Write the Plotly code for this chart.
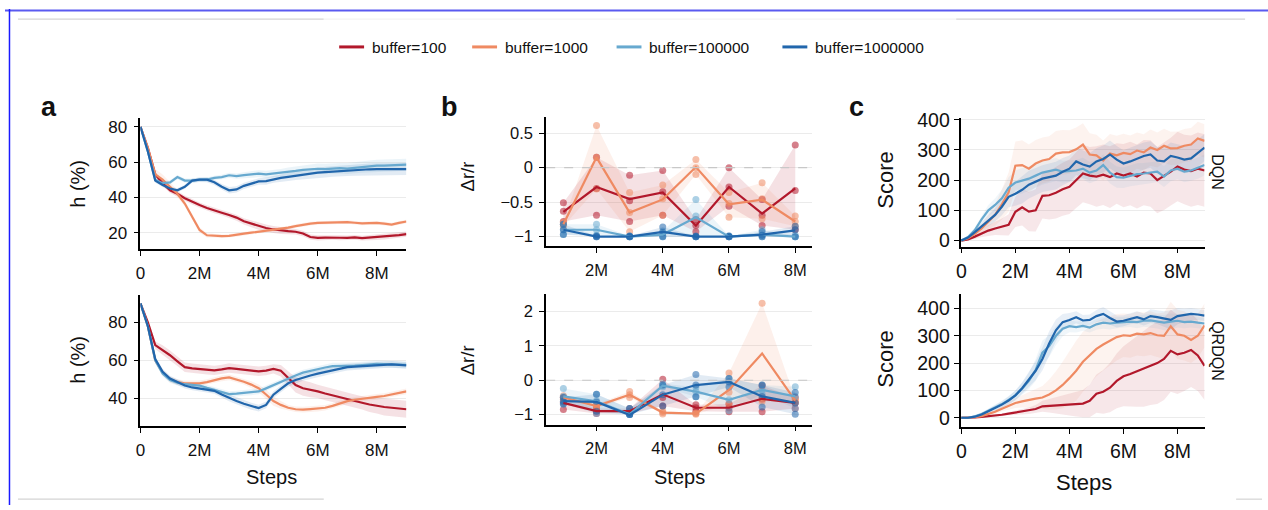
import plotly.graph_objects as go

W, H = 1268, 510
FONT = "Liberation Sans, Arial, Helvetica, sans-serif"

BUFFERS = ["buffer=100", "buffer=1000", "buffer=100000", "buffer=1000000"]
COLORS = ["#b2182b", "#ef8a62", "#67a9cf", "#2166ac"]
FILLS = ["rgba(178,24,43,{a})", "rgba(239,138,98,{a})", "rgba(103,169,207,{a})", "rgba(33,102,172,{a})"]

# training steps, in millions
STEPS = [0, 0.25, 0.5, 0.75, 1, 1.25, 1.5, 1.75, 2, 2.25, 2.5, 2.75, 3, 3.25, 3.5, 3.75, 4, 4.25, 4.5,
         4.75, 5, 5.25, 5.5, 5.75, 6, 6.25, 6.5, 6.75, 7, 7.25, 7.5, 7.75, 8, 8.25, 8.5, 8.75, 9]
EVAL_STEPS = [1, 2, 3, 4, 5, 6, 7, 8]

# ---- a (top): h (%) ----
a1_b100 = [80, 68, 53, 48, 44, 42, 39.5, 37.5, 35.6, 34, 32.5, 31.3, 30, 28.5, 26.4, 25, 23.7, 22.6, 21.8,
           21.2, 20.8, 20.5, 19.5, 17.5, 17, 17.2, 17.3, 17.1, 17, 17.3, 16.9, 17.2, 17.3, 17.6, 18.2, 18.6, 19.2]
a1_b1000 = [80, 68, 53, 50, 46, 42, 36.5, 29, 21.5, 18.5, 18.2, 18, 18.2, 18.6, 19.4, 20, 20.5, 21, 21.5,
            22.3, 22.8, 23.7, 24.6, 25.1, 25.5, 25.7, 25.9, 25.9, 26, 25.6, 25.2, 25.4, 25.5, 25.1, 24.6, 25.5, 26.3]
a1_b1e5 = [80, 66, 50, 48, 48.5, 51.5, 49.5, 49.5, 50, 50, 51, 51.5, 52.5, 52, 52.6, 53, 53.4, 53, 53.4,
           53.8, 54.5, 55, 55.6, 56, 56.2, 56, 56.3, 56.5, 56.3, 56.8, 57.2, 57.6, 58, 58, 58.2, 58.3, 58.5]
a1_b1e6 = [80, 66, 49.5, 47, 45, 44, 46, 49.5, 50, 50, 48.5, 46, 44, 44.5, 46.5, 47.8, 49, 49.2, 50.2,
           51, 51.6, 52.3, 53, 53.5, 54, 54.3, 54.6, 55, 55.2, 55.5, 55.7, 55.9, 56, 56, 56, 56, 56]
a1_sd_b100 = [0, 1, 1.5, 1.5, 1.5, 1.5, 1.5, 1.5, 1.5, 1.5, 1.5, 1.5, 1.6, 1.7, 1.8, 2, 2, 2, 2,
              2, 1.8, 1.6, 1.5, 1.5, 1.5, 1.4, 1.4, 1.4, 1.4, 1.4, 1.4, 1.5, 1.5, 1.5, 1.5, 1.5, 1.5]
a1_sd_b1000 = [0, 1.5, 3, 3, 2.5, 2, 1.5, 1.5, 1.5, 1.2, 1, 1, 1, 1, 1, 1, 1, 1, 1,
               1, 1, 1, 1, 1, 1, 1, 1, 1, 1, 1, 1, 1, 1, 1, 1, 1, 1]
a1_sd_b1e5 = [0, 1, 1.2, 1.2, 1.2, 1.2, 1.2, 1.2, 1.2, 1.2, 1.2, 1.3, 1.4, 1.5, 1.6, 1.8, 2, 2, 2,
              2.2, 2.4, 2.5, 2.6, 2.8, 3, 3, 3, 3, 3.1, 3.2, 3.2, 3.3, 3.3, 3.4, 3.4, 3.4, 3.4]
a1_sd_b1e6 = [0, 1, 1.2, 1.2, 1.2, 1.2, 1.2, 1.2, 1.3, 1.4, 1.5, 1.6, 1.8, 1.8, 1.8, 1.8, 1.8, 2, 2,
              2.2, 2.4, 2.5, 2.6, 2.8, 3, 3, 3, 3, 3.1, 3.2, 3.2, 3.3, 3.3, 3.4, 3.4, 3.4, 3.4]

# ---- a (bottom): h (%) ----
a2_b100 = [90, 80, 68, 65.5, 62.7, 59.5, 56.4, 55.8, 55.5, 55, 54.7, 55.2, 55.9, 55.5, 55.2, 54.5, 54.2, 54.6, 55.5,
           54.5, 50.5, 47, 45.3, 44.5, 43.6, 42.5, 41.5, 40.3, 39.3, 38.5, 37.6, 36.7, 35.9, 35.4, 35, 34.6, 34.2]
a2_b1000 = [90, 78, 60, 53.5, 50, 48.5, 47.9, 47.8, 47.9, 48.5, 49.6, 50.5, 51, 50, 48.7, 47.2, 45.3, 42, 38.5,
            36.5, 35, 34.2, 34, 34.3, 34.5, 35, 36, 37.3, 38.5, 39.2, 39.8, 40.3, 40.7, 41.2, 41.9, 42.8, 43.6]
a2_b1e5 = [90, 78, 60, 53, 49.6, 48.2, 47.4, 47, 46.7, 45.5, 44.4, 43.2, 42.2, 42.4, 42.7, 43.1, 43.6, 45.2, 47,
           48.7, 50.4, 52, 53.5, 54.5, 55.5, 56.2, 56.9, 56.9, 56.9, 57.2, 57.5, 57.8, 58.1, 58, 57.9, 57.8, 57.6]
a2_b1e6 = [90, 78, 60.7, 54, 50.4, 48.5, 46.7, 45.7, 45, 44.5, 43.9, 42, 40.2, 38.6, 37.1, 35.8, 34.8, 36.5, 41.9,
           45, 47.9, 49.6, 51, 52, 53, 53.8, 54.7, 55.6, 56.4, 56.7, 56.9, 57.3, 57.6, 57.8, 57.9, 57.6, 57.3]
a2_sd_b100 = [0, 1.5, 2, 2.5, 2.5, 2.5, 2.5, 2.5, 2.5, 2.5, 2.5, 2.5, 2.5, 2.5, 2.5, 2.5, 2.5, 2.5, 2.5,
              3, 3.5, 4, 4, 4, 3.5, 3.5, 3.5, 3.5, 3.5, 3.5, 3.5, 4, 4, 4.5, 4.5, 4.5, 4.5]
a2_sd_b1000 = [0, 1, 1.5, 1.5, 1.5, 1.5, 1.5, 1.5, 1.5, 1.5, 1.5, 1.5, 1.5, 1.5, 1.5, 1.8, 2, 2.5, 2.5,
               2, 1.5, 1.5, 1.5, 1.5, 1.5, 1.5, 1.5, 1.5, 1.5, 1.5, 1.5, 1.5, 1.5, 1.5, 1.5, 1.5, 1.5]
a2_sd_b1e5 = [0, 1, 1.5, 1.5, 1.5, 1.5, 1.5, 1.5, 1.5, 1.5, 1.5, 1.5, 1.5, 1.5, 1.5, 1.5, 1.5, 1.5, 1.5,
              1.5, 1.5, 1.5, 1.5, 1.5, 1.6, 1.7, 1.8, 1.8, 1.8, 1.8, 1.8, 1.8, 1.8, 1.8, 1.8, 1.8, 1.8]
a2_sd_b1e6 = [0, 1, 1.5, 1.5, 1.5, 1.5, 1.5, 1.5, 1.5, 1.5, 1.5, 1.6, 1.8, 1.8, 1.8, 1.8, 1.8, 1.8, 1.8,
              1.8, 1.8, 1.8, 1.8, 1.8, 1.8, 1.8, 1.8, 1.8, 1.8, 1.8, 1.8, 1.8, 1.8, 1.8, 1.8, 1.8, 1.8]

# ---- b (top): per-seed Δr/r and their mean ----
b1_b100 = [-0.64, -0.28, -0.455, -0.36, -0.84, -0.28, -0.665, -0.30]
b1_b1000 = [-0.82, 0.15, -0.65, -0.46, 0.01, -0.53, -0.465, -0.78]
b1_b1e5 = [-0.90, -0.90, -1.0, -0.97, -0.72, -1.0, -0.97, -1.0]
b1_b1e6 = [-0.90, -1.0, -1.0, -0.93, -1.0, -1.0, -0.97, -0.91]
b1_seeds_b100 = [[-0.51, -0.78, -0.63], [0.15, -0.69, -0.30], [-0.11, -0.78, -0.48], [-0.04, -0.69, -0.35],
                 [-0.93, -0.75, -0.84], [0.0, -0.56, -0.28], [-0.46, -0.84, -0.69], [0.33, -0.90, -0.33]]
b1_seeds_b1000 = [[-0.79, -0.85, -0.82], [0.61, 0.15, -0.31], [-0.36, -0.93, -0.65], [-0.25, -0.69, -0.45],
                  [0.12, -0.10, 0.0], [-0.36, -0.72, -0.52], [-0.22, -0.74, -0.45], [-0.70, -0.85, -0.78]]
b1_seeds_b1e5 = [[-0.82, -0.97, -0.90], [-0.82, -0.98, -0.90], [-1.0, -0.99, -1.0], [-0.92, -1.0, -0.99],
                 [-0.46, -1.0, -0.70], [-1.0, -0.99, -1.0], [-0.90, -1.0, -0.98], [-0.98, -1.0, -1.0]]
b1_seeds_b1e6 = [[-0.82, -0.97, -0.90], [-1.0, -0.99, -1.0], [-1.0, -0.99, -1.0], [-0.86, -1.0, -0.94],
                 [-1.0, -0.99, -1.0], [-1.0, -0.99, -1.0], [-0.93, -1.0, -0.98], [-0.85, -1.0, -0.90]]

# ---- b (bottom) ----
b2_b100 = [-0.66, -0.9, -0.9, -0.41, -0.8, -0.8, -0.54, -0.66]
b2_b1000 = [-0.5, -0.75, -0.42, -0.94, -0.97, -0.28, 0.78, -0.59]
b2_b1e5 = [-0.47, -0.61, -0.99, -0.16, -0.33, -0.57, -0.28, -0.47]
b2_b1e6 = [-0.61, -0.63, -1.01, -0.42, -0.14, -0.05, -0.47, -0.66]
b2_seeds_b100 = [[-0.50, -0.85, -0.65], [-0.82, -0.97, -0.90], [-0.82, -0.97, -0.90], [0.03, -0.75, -0.50],
                 [-0.71, -0.90, -0.80], [-0.69, -0.92, -0.80], [-0.16, -0.92, -0.55], [-0.50, -0.82, -0.66]]
b2_seeds_b1000 = [[-0.45, -0.55, -0.50], [-0.70, -0.80, -0.75], [-0.33, -0.50, -0.42], [-0.90, -0.98, -0.94],
                  [-0.95, -0.99, -0.97], [0.21, -0.69, -0.35], [2.24, -0.61, -0.50], [-0.55, -0.65, -0.59]]
b2_seeds_b1e5 = [[-0.24, -0.69, -0.47], [-0.41, -0.97, -0.60], [-0.82, -1.0, -0.99], [-0.10, -0.20, -0.16],
                 [-0.20, -0.48, -0.33], [0.05, -0.88, -0.57], [-0.14, -0.40, -0.28], [-0.19, -0.82, -0.47]]
b2_seeds_b1e6 = [[-0.50, -0.69, -0.61], [-0.41, -0.90, -0.63], [-0.82, -1.0, -1.0], [-0.14, -0.75, -0.42],
                 [0.17, -0.48, -0.14], [0.05, -0.20, -0.05], [-0.14, -0.78, -0.47], [-0.36, -0.99, -0.66]]

# ---- c (top): DQN score ----
c1_b100 = [0, 4, 13, 24, 33, 40, 45, 52, 95, 110, 96, 100, 148, 150, 158, 170, 178, 200, 222,
           215, 212, 218, 210, 222, 215, 222, 212, 225, 222, 200, 213, 228, 245, 235, 230, 238, 232]
c1_b1000 = [0, 8, 22, 40, 62, 85, 120, 160, 248, 250, 238, 255, 265, 270, 288, 292, 293, 302, 318,
            285, 282, 265, 288, 282, 290, 286, 298, 292, 308, 300, 314, 305, 306, 314, 318, 338, 330]
c1_b1e5 = [0, 12, 35, 70, 100, 118, 140, 175, 192, 198, 205, 215, 225, 230, 235, 228, 230, 232, 238,
           225, 232, 250, 225, 210, 208, 215, 220, 222, 225, 228, 212, 232, 238, 228, 232, 240, 250]
c1_b1e6 = [0, 10, 28, 48, 65, 85, 112, 145, 155, 168, 185, 195, 205, 210, 215, 228, 238, 262, 252,
           245, 262, 270, 285, 268, 255, 262, 270, 280, 285, 265, 262, 280, 275, 268, 272, 290, 308]
c1_sd_b100 = [0, 3, 8, 12, 18, 22, 28, 35, 50, 60, 65, 70, 75, 80, 85, 88, 90, 92, 95,
              95, 100, 100, 102, 100, 105, 105, 106, 108, 110, 110, 112, 112, 115, 115, 118, 120, 120]
c1_sd_b1000 = [0, 4, 10, 15, 25, 35, 50, 65, 80, 82, 80, 78, 76, 75, 75, 74, 72, 72, 70,
               70, 68, 66, 65, 65, 64, 62, 60, 60, 60, 58, 56, 55, 55, 55, 55, 55, 55]
c1_sd_b1e5 = [0, 4, 8, 12, 18, 22, 28, 35, 40, 42, 40, 40, 40, 38, 38, 36, 35, 35, 36,
              35, 34, 35, 36, 35, 34, 35, 36, 35, 35, 34, 35, 36, 35, 35, 34, 35, 35]
c1_sd_b1e6 = [0, 3, 8, 12, 18, 22, 28, 35, 40, 45, 46, 45, 44, 45, 46, 45, 44, 45, 46,
              45, 44, 45, 46, 45, 44, 45, 46, 45, 44, 45, 46, 45, 44, 45, 46, 45, 45]

# ---- c (bottom): QRDQN score ----
c2_b100 = [0, 0, 1, 3, 5, 8, 11, 15, 19, 22, 26, 32, 42, 44, 46, 48, 49, 50, 52,
           62, 88, 95, 110, 135, 152, 160, 170, 180, 192, 200, 215, 245, 232, 238, 248, 228, 190]
c2_b1000 = [0, 0, 2, 6, 13, 22, 33, 44, 54, 60, 66, 70, 74, 85, 100, 120, 145, 172, 205,
            230, 252, 268, 282, 295, 302, 300, 308, 305, 310, 302, 300, 335, 305, 300, 285, 300, 338]
c2_b1e5 = [0, 0, 5, 14, 26, 37, 50, 65, 82, 106, 135, 175, 238, 262, 300, 326, 335, 332, 336,
           330, 342, 348, 345, 348, 350, 352, 350, 355, 356, 352, 348, 352, 355, 350, 352, 348, 345]
c2_b1e6 = [0, 0, 4, 12, 24, 35, 48, 63, 82, 108, 140, 172, 215, 272, 320, 350, 358, 368, 356,
           358, 372, 380, 365, 352, 355, 362, 368, 360, 372, 368, 362, 358, 372, 375, 380, 378, 374]
c2_sd_b100 = [0, 0, 1, 2, 3, 4, 5, 6, 8, 10, 12, 15, 20, 25, 30, 35, 40, 45, 50,
              60, 70, 80, 90, 100, 110, 120, 130, 140, 145, 150, 150, 150, 145, 140, 135, 130, 125]
c2_sd_b1000 = [0, 0, 2, 4, 6, 8, 10, 14, 18, 22, 28, 35, 42, 55, 70, 85, 100, 110, 110,
               105, 100, 95, 90, 85, 80, 80, 80, 80, 80, 80, 85, 90, 90, 90, 85, 80, 80]
c2_sd_b1e5 = [0, 0, 3, 5, 8, 10, 12, 15, 18, 22, 30, 40, 45, 40, 35, 28, 22, 20, 18,
              18, 20, 22, 22, 20, 20, 20, 22, 22, 25, 25, 28, 30, 25, 22, 22, 20, 20]
c2_sd_b1e6 = [0, 0, 3, 5, 8, 10, 12, 15, 18, 22, 28, 35, 42, 45, 40, 30, 25, 22, 20,
              20, 22, 25, 25, 22, 20, 20, 22, 22, 25, 25, 28, 35, 30, 25, 22, 20, 20]

TICK_M = [0, 2, 4, 6, 8]
TICK_M_TEXT = ["0", "2M", "4M", "6M", "8M"]
TICK_B = [2, 4, 6, 8]
TICK_B_TEXT = ["2M", "4M", "6M", "8M"]


def px(xp):
    return xp / W


def py(yp):
    return 1 - yp / H


fig = go.Figure()


def add_band(x, lo, hi, i, ax, alpha):
    fig.add_trace(go.Scatter(
        x=list(x) + list(x)[::-1], y=list(hi) + list(lo)[::-1],
        fill="toself", fillcolor=FILLS[i].format(a=alpha), line=dict(width=0),
        mode="lines", hoverinfo="skip", showlegend=False, xaxis="x" + ax, yaxis="y" + ax))


def add_line(x, y, i, ax, width=2.2):
    fig.add_trace(go.Scatter(
        x=x, y=y, mode="lines", line=dict(color=COLORS[i], width=width),
        name=BUFFERS[i], showlegend=False, xaxis="x" + ax, yaxis="y" + ax))


def curve_panel(ax, means, sds, alpha):
    for i, (m, s) in enumerate(zip(means, sds)):
        add_band(STEPS, [a - b for a, b in zip(m, s)], [a + b for a, b in zip(m, s)], i, ax, alpha)
    for i, m in enumerate(means):
        add_line(STEPS, m, i, ax)


def eval_panel(ax, means, seeds):
    for i, s in enumerate(seeds):
        add_band(EVAL_STEPS, [min(v) for v in s], [max(v) for v in s], i, ax, 0.13)
    for i, s in enumerate(seeds):
        xs = [x for x, v in zip(EVAL_STEPS, s) for _ in v]
        ys = [y for v in s for y in v]
        fig.add_trace(go.Scatter(
            x=xs, y=ys, mode="markers",
            marker=dict(color=COLORS[i], size=7, opacity=0.55, line=dict(width=0)),
            showlegend=False, hoverinfo="skip", xaxis="x" + ax, yaxis="y" + ax))
    for i, m in enumerate(means):
        add_line(EVAL_STEPS, m, i, ax)


curve_panel("", [a1_b100, a1_b1000, a1_b1e5, a1_b1e6],
            [a1_sd_b100, a1_sd_b1000, a1_sd_b1e5, a1_sd_b1e6], 0.13)
curve_panel("2", [a2_b100, a2_b1000, a2_b1e5, a2_b1e6],
            [a2_sd_b100, a2_sd_b1000, a2_sd_b1e5, a2_sd_b1e6], 0.13)
eval_panel("3", [b1_b100, b1_b1000, b1_b1e5, b1_b1e6],
           [b1_seeds_b100, b1_seeds_b1000, b1_seeds_b1e5, b1_seeds_b1e6])
eval_panel("4", [b2_b100, b2_b1000, b2_b1e5, b2_b1e6],
           [b2_seeds_b100, b2_seeds_b1000, b2_seeds_b1e5, b2_seeds_b1e6])
curve_panel("5", [c1_b100, c1_b1000, c1_b1e5, c1_b1e6],
            [c1_sd_b100, c1_sd_b1000, c1_sd_b1e5, c1_sd_b1e6], 0.10)
curve_panel("6", [c2_b100, c2_b1000, c2_b1e5, c2_b1e6],
            [c2_sd_b100, c2_sd_b1000, c2_sd_b1e5, c2_sd_b1e6], 0.10)


def xaxis(dom, anchor, rng, vals, text, size, standoff):
    return dict(domain=[px(dom[0]), px(dom[1])], anchor=anchor, range=rng,
                tickvals=vals, ticktext=text, showgrid=False, zeroline=False,
                showline=True, linecolor="black", linewidth=1.6,
                ticks="outside", ticklen=5, tickwidth=1.4, tickcolor="black",
                ticklabelstandoff=standoff,
                tickfont=dict(size=size, color="#111", family=FONT))


def yaxis(dom, anchor, rng, vals, text, size, standoff):
    return dict(domain=[py(dom[1]), py(dom[0])], anchor=anchor, range=rng,
                tickvals=vals, ticktext=text, showgrid=True, gridcolor="#ebebeb", gridwidth=1,
                zeroline=False, showline=True, linecolor="black", linewidth=1.6,
                ticks="outside", ticklen=5, tickwidth=1.4, tickcolor="black",
                ticklabelstandoff=standoff,
                tickfont=dict(size=size, color="#111", family=FONT))


AX = (136, 403)
BX = (543.3, 810)
CX = (959.3, 1204.3)

layout = dict(
    xaxis=xaxis(AX, "y", [0, 9], TICK_M, TICK_M_TEXT, 17, 3),
    yaxis=yaxis((112, 247), "x", [10.6, 85], [20, 40, 60, 80], ["20", "40", "60", "80"], 17, 3),
    xaxis2=xaxis(AX, "y2", [0, 9], TICK_M, TICK_M_TEXT, 17, 3),
    yaxis2=yaxis((294, 428.7), "x2", [25.4, 94.5], [40, 60, 80], ["40", "60", "80"], 17, 3),
    xaxis3=xaxis(BX, "y3", [0.48, 8.5], TICK_B, TICK_B_TEXT, 16.5, 3),
    yaxis3=yaxis((110.7, 244), "x3", [-1.14, 0.74], [-1, -0.5, 0, 0.5],
                 ["\u22121", "\u22120.5", "0", "0.5"], 16.5, 3),
    xaxis4=xaxis(BX, "y4", [0.48, 8.5], TICK_B, TICK_B_TEXT, 16.5, 3),
    yaxis4=yaxis((292.7, 427.3), "x4", [-1.29, 2.52], [-1, 0, 1, 2], ["\u22121", "0", "1", "2"], 16.5, 3),
    xaxis5=xaxis(CX, "y5", [-0.03, 9], TICK_M, TICK_M_TEXT, 19.5, 1),
    yaxis5=yaxis((111.7, 244.3), "x5", [-20, 407], [0, 100, 200, 300, 400],
                 ["0", "100", "200", "300", "400"], 19.5, 0),
    xaxis6=xaxis(CX, "y6", [-0.03, 9], TICK_M, TICK_M_TEXT, 19.5, 1),
    yaxis6=yaxis((293.3, 430), "x6", [-34.5, 452], [0, 100, 200, 300, 400],
                 ["0", "100", "200", "300", "400"], 19.5, 0),
)

annotations = []


def text(x, y, s, size, angle=0, bold=False, anchor="center"):
    annotations.append(dict(
        x=px(x), y=py(y), xref="paper", yref="paper", text=("<b>%s</b>" % s) if bold else s,
        showarrow=False, textangle=angle, xanchor=anchor, yanchor="middle",
        font=dict(size=size, color="#111", family=FONT)))


text(44, 101, "a", 27, bold=True)
text(446, 101, "b", 27, bold=True)
text(855, 101, "c", 27, bold=True)
text(73, 180, "h (%)", 20, -90)
text(73, 361, "h (%)", 20, -90)
text(464, 172, "\u0394r/r", 18.5, -90)
text(464, 361, "\u0394r/r", 18.5, -90)
text(884, 176, "Score", 22, -90)
text(884, 360, "Score", 22, -90)
text(268, 481, "Steps", 20)
text(677, 481, "Steps", 20)
text(1083, 487, "Steps", 22)
text(1217, 168, "DQN", 16, 90)
text(1217, 352, "QRDQN", 16, 90)

shapes = [
    # dashed reference line at zero in the Δr/r panels
    dict(type="line", xref="x3 domain", yref="y3", x0=0, x1=1, y0=0, y1=0,
         line=dict(color="#c8c8c8", width=1.2, dash="dash")),
    dict(type="line", xref="x4 domain", yref="y4", x0=0, x1=1, y0=0, y1=0,
         line=dict(color="#c8c8c8", width=1.2, dash="dash")),
    # page frame
    dict(type="line", xref="paper", yref="paper", x0=0, x1=1, y0=py(1.5), y1=py(1.5),
         line=dict(color="#5a5af0", width=2)),
    dict(type="line", xref="paper", yref="paper", x0=px(4.5), x1=px(4.5), y0=0, y1=1,
         line=dict(color="#1a1aff", width=1.5)),
    dict(type="line", xref="paper", yref="paper", x0=px(13), x1=px(320), y0=py(10.5), y1=py(10.5),
         line=dict(color="#d4d4d4", width=1.2)),
    dict(type="line", xref="paper", yref="paper", x0=px(320), x1=px(955), y0=py(10.5), y1=py(10.5),
         line=dict(color="#f3f3f3", width=1.2)),
    dict(type="line", xref="paper", yref="paper", x0=px(955), x1=px(1245), y0=py(10.5), y1=py(10.5),
         line=dict(color="#d4d4d4", width=1.2)),
    dict(type="line", xref="paper", yref="paper", x0=px(13), x1=px(320), y0=py(504), y1=py(504),
         line=dict(color="#d4d4d4", width=1.2)),
    dict(type="line", xref="paper", yref="paper", x0=px(1236), x1=px(1262), y0=py(504), y1=py(504),
         line=dict(color="#d4d4d4", width=1.2)),
]

# legend: colour swatch followed by label
LEGEND_X = [335.5, 469, 614, 780.5]
for i, x0 in enumerate(LEGEND_X):
    shapes.append(dict(type="line", xref="paper", yref="paper", x0=px(x0), x1=px(x0 + 25),
                       y0=py(39), y1=py(39), line=dict(color=COLORS[i], width=3)))
    text(x0 + 31, 39.5, BUFFERS[i], 15.5, anchor="left")

fig.update_layout(
    **layout,
    width=W, height=H, margin=dict(l=0, r=0, t=0, b=0),
    paper_bgcolor="white", plot_bgcolor="white",
    font=dict(family=FONT, color="#111"),
    showlegend=False,
    annotations=annotations, shapes=shapes,
)

# pin the figure to the page's top-left corner so it fills the window exactly
PIN = ("var s=document.createElement('style');"
       "s.textContent='html,body{margin:0;padding:0;overflow:hidden;}';"
       "document.head.appendChild(s);"
       "var d=document.getElementById('{plot_id}');"
       "d.style.position='fixed';d.style.left='0px';d.style.top='0px';")
fig.write_html("out.html", post_script=PIN)
